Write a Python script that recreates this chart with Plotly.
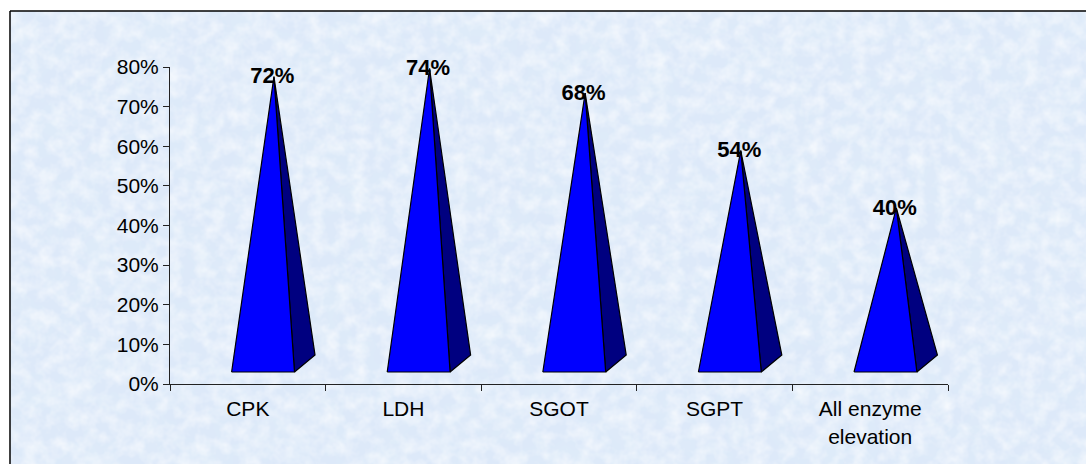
import base64
import plotly.graph_objects as go

categories = ["CPK", "LDH", "SGOT", "SGPT", "All enzyme<br>elevation"]
values = [72, 74, 68, 54, 40]
labels = ["72%", "74%", "68%", "54%", "40%"]
y_ticks = [0, 10, 20, 30, 40, 50, 60, 70, 80]
y_tick_labels = ["0%", "10%", "20%", "30%", "40%", "50%", "60%", "70%", "80%"]

# pyramid shape, in axis units
FRONT_Y, BACK_Y, SCALE = 3.03, 7.3, 1.035
LEFT, RIGHT, BACK, APEX = -0.104, 0.30, 0.432, 0.168
LABEL_DX, LABEL_DY = -0.01, -0.3

W, H = 1086, 464
L, R, T, B = 170, 948, 67, 384
FONT = "Liberation Sans, Arial, sans-serif"

# mottled paper texture, drawn by the browser's own turbulence filter
texture_svg = """<svg xmlns='http://www.w3.org/2000/svg' width='1076' height='453'>
<filter id='a' x='0' y='0' width='100%' height='100%'><feTurbulence type='fractalNoise' baseFrequency='0.07' numOctaves='3' seed='11'/>
<feColorMatrix values='0 0 0 0 1  0 0 0 0 1  0 0 0 0 1  1.1 0 0 0 -0.38'/></filter>
<filter id='b' x='0' y='0' width='100%' height='100%'><feTurbulence type='fractalNoise' baseFrequency='0.03' numOctaves='3' seed='29'/>
<feColorMatrix values='0 0 0 0 0.74  0 0 0 0 0.85  0 0 0 0 0.95  0 1.1 0 0 -0.42'/></filter>
<rect width='1076' height='453' fill='#DDE9F9'/>
<rect width='1076' height='453' filter='url(#b)'/>
<rect width='1076' height='453' filter='url(#a)'/>
</svg>"""
texture = "data:image/svg+xml;base64," + base64.b64encode(texture_svg.encode()).decode()

fig = go.Figure()
# category axis carries the tick labels
fig.add_trace(go.Bar(x=categories, y=values, xaxis="x", yaxis="y", opacity=0,
                     hoverinfo="skip", showlegend=False))

for i, v in enumerate(values):
    top = FRONT_Y + v * SCALE
    fig.add_trace(go.Scatter(
        x=[i + RIGHT, i + BACK, i + APEX, i + RIGHT], y=[FRONT_Y, BACK_Y, top, FRONT_Y],
        xaxis="x2", yaxis="y", mode="lines", fill="toself", fillcolor="#000080",
        line=dict(color="#000000", width=1.2), hoverinfo="skip", showlegend=False))
    fig.add_trace(go.Scatter(
        x=[i + LEFT, i + RIGHT, i + APEX, i + LEFT], y=[FRONT_Y, FRONT_Y, top, FRONT_Y],
        xaxis="x2", yaxis="y", mode="lines", fill="toself", fillcolor="#0000FF",
        line=dict(color="#000000", width=1.2), hoverinfo="skip", showlegend=False))

fig.add_trace(go.Scatter(
    x=[i + APEX + LABEL_DX for i in range(len(values))],
    y=[FRONT_Y + v * SCALE + LABEL_DY for v in values],
    text=labels, xaxis="x2", yaxis="y", mode="text", textposition="middle center",
    textfont=dict(family=FONT, size=22, color="#000000"),
    texttemplate="<b>%{text}</b>", hoverinfo="skip", showlegend=False, cliponaxis=False))

fig.update_layout(
    width=W, height=H, margin=dict(l=L, r=W - R, t=T, b=H - B),
    paper_bgcolor="#FFFFFF", plot_bgcolor="rgba(0,0,0,0)",
    font=dict(family=FONT, size=21, color="#000000"),
    showlegend=False,
    xaxis=dict(type="category", tickson="boundaries", ticks="outside", ticklen=6,
               tickcolor="#222222", showline=True, linecolor="#222222", showgrid=False,
               ticklabelstandoff=6, tickfont=dict(size=21), tickangle=0,
               categoryorder="array", categoryarray=categories),
    xaxis2=dict(overlaying="x", range=[-0.5, 4.5], visible=False),
    yaxis=dict(range=[0, 80], tickvals=y_ticks, ticktext=y_tick_labels, ticks="outside", ticklen=6,
               tickcolor="#222222", showline=True, linecolor="#222222", showgrid=False,
               zeroline=False, tickfont=dict(size=21)),
    images=[dict(source=texture, xref="paper", yref="paper", layer="below", sizing="stretch",
                 x=(10 - L) / (R - L), y=(B - 11) / (B - T), xanchor="left", yanchor="top",
                 sizex=1076 / (R - L), sizey=453 / (B - T))],
    shapes=[
        dict(type="line", xref="paper", yref="paper", layer="below",
             x0=(10 - L) / (R - L), x1=(W - L) / (R - L), y0=(B - 11) / (B - T), y1=(B - 11) / (B - T),
             line=dict(color="#000000", width=1.5)),
        dict(type="line", xref="paper", yref="paper", layer="below",
             x0=(10 - L) / (R - L), x1=(10 - L) / (R - L), y0=(B - H) / (B - T), y1=(B - 11) / (B - T),
             line=dict(color="#000000", width=1.5)),
    ],
)
fig.write_html("out.html", config={"displayModeBar": False},
               post_script="document.body.style.margin='0';")
